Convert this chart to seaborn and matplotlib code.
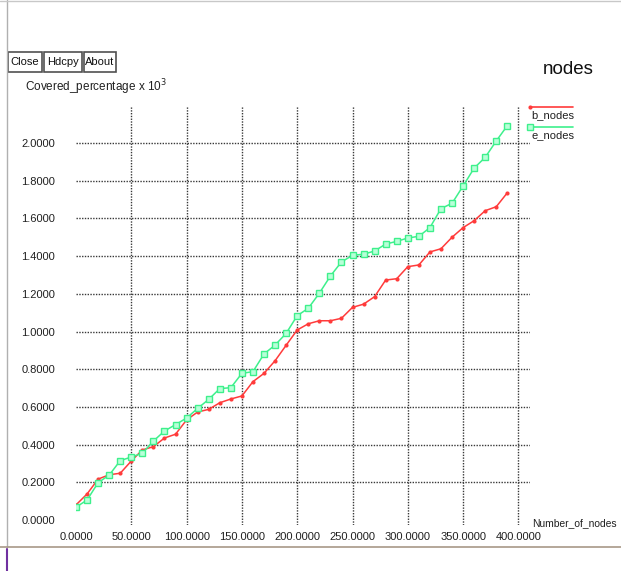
import numpy as np
import pandas as pd
import seaborn as sns
import matplotlib.pyplot as plt
from matplotlib.lines import Line2D
from matplotlib.patches import Rectangle

# data (y in units of 10^3)
num_nodes = list(range(0, 400, 10))
b_nodes = [0.080, 0.138, 0.217, 0.240, 0.248, 0.313, 0.372, 0.389, 0.435, 0.455,
           0.531, 0.573, 0.587, 0.622, 0.642, 0.658, 0.734, 0.778, 0.845, 0.927,
           1.008, 1.041, 1.057, 1.057, 1.070, 1.128, 1.145, 1.185, 1.273, 1.280,
           1.344, 1.353, 1.422, 1.439, 1.500, 1.551, 1.588, 1.641, 1.662, 1.736]
e_nodes = [0.068, 0.106, 0.198, 0.238, 0.315, 0.334, 0.354, 0.419, 0.472, 0.506,
           0.541, 0.592, 0.640, 0.697, 0.702, 0.778, 0.787, 0.881, 0.928, 0.990,
           1.084, 1.123, 1.203, 1.294, 1.369, 1.404, 1.410, 1.427, 1.464, 1.478,
           1.496, 1.505, 1.551, 1.652, 1.680, 1.772, 1.867, 1.924, 2.011, 2.092]
x_ticks = [0, 50, 100, 150, 200, 250, 300, 350, 400]
y_ticks = [0.0, 0.2, 0.4, 0.6, 0.8, 1.0, 1.2, 1.4, 1.6, 1.8, 2.0]

df = pd.DataFrame({'n': num_nodes, 'b_nodes': b_nodes, 'e_nodes': e_nodes})

sns.set_style('white')
plt.rcParams['font.family'] = ['Liberation Sans', 'DejaVu Sans']

W, H = 621, 571
fig = plt.figure(figsize=(W / 100, H / 100), dpi=100)

def fx(px):
    return px / W

def fy(py):
    return 1 - py / H

RED = '#ff3b3b'
GREEN = '#3ef08c'

ax = fig.add_axes([fx(76), fy(525), fx(530) - fx(76), fy(106) - fy(525)])

sns.lineplot(data=df, x='n', y='b_nodes', ax=ax, color=RED, lw=1.1,
             marker='o', markersize=3, markeredgewidth=0, sort=False)
sns.lineplot(data=df, x='n', y='e_nodes', ax=ax, color=GREEN, lw=1.1,
             marker='s', markersize=3.8, markerfacecolor='#b8ffd8',
             markeredgecolor=GREEN, markeredgewidth=1, sort=False)

ax.set_xlim(0, (530 - 76) / 1.106)
ax.set_ylim(-5 / 188.5, (520 - 106) / 188.5)

# xgraph style grid: dotted, no line at zero
ax.grid(False)
for xv in x_ticks[1:]:
    ax.axvline(xv, color='#383838', lw=1.0, ls=(0, (1, 1)), zorder=0)
for yv in y_ticks[1:]:
    ax.axhline(yv, color='#383838', lw=1.0, ls=(0, (1, 1)), zorder=0)

ax.set_xticks(x_ticks)
ax.set_xticklabels(['%.4f' % v for v in x_ticks])
ax.set_yticks(y_ticks)
ax.set_yticklabels(['%.4f' % v for v in y_ticks])
ax.tick_params(axis='both', length=0, labelsize=8, colors='#202020')
ax.tick_params(axis='y', pad=15)
ax.tick_params(axis='x', pad=5)
ax.set_xlabel('')
ax.set_ylabel('')
for s in ax.spines.values():
    s.set_visible(False)

# labels
fig.text(fx(25), fy(87), 'Covered_percentage x 10$^3$', fontsize=8.5,
         ha='left', va='center', color='#202020')
fig.text(fx(532), fy(523), 'Number_of_nodes', fontsize=7.4, ha='left',
         va='center', color='#202020')
fig.text(fx(568), fy(69), 'nodes', fontsize=13.5, ha='center', va='center',
         color='#101010')

# legend
fig.add_artist(Line2D([fx(530), fx(573)], [fy(107), fy(107)], color=RED, lw=1.2))
fig.add_artist(Line2D([fx(530)], [fy(107)], color=RED, marker='o', ms=3, mew=0))
fig.text(fx(531), fy(115), 'b_nodes', fontsize=8, ha='left', va='center', color='#202020')
fig.add_artist(Line2D([fx(530), fx(573)], [fy(127), fy(127)], color=GREEN, lw=1.2))
fig.add_artist(Line2D([fx(530)], [fy(127)], color=GREEN, marker='s', ms=3.8,
                      mfc='#b8ffd8', mec=GREEN))
fig.text(fx(531), fy(135), 'e_nodes', fontsize=8, ha='left', va='center', color='#202020')

# buttons
for label, x0, x1 in [('Close', 8, 42), ('Hdcpy', 44, 82), ('About', 84, 116)]:
    fig.add_artist(Rectangle((fx(x0), fy(72)), fx(x1) - fx(x0), fy(52) - fy(72),
                             fill=False, ec='#505050', lw=1.2))
    fig.text(fx((x0 + x1) / 2), fy(62), label, fontsize=8, ha='center',
             va='center', color='#101010')

# window frame
fig.add_artist(Line2D([fx(7), fx(7)], [fy(0), fy(547)], color='#b0b0b0', lw=1))
fig.add_artist(Line2D([fx(0), fx(621)], [fy(547), fy(547)], color='#a89888', lw=1.2))
fig.add_artist(Line2D([fx(0), fx(621)], [fy(0.5), fy(0.5)], color='#c8c8c8', lw=1))
fig.add_artist(Line2D([fx(7), fx(7)], [fy(549), fy(571)], color='#7030a0', lw=1.5))

fig.savefig('out.png', dpi=100)
